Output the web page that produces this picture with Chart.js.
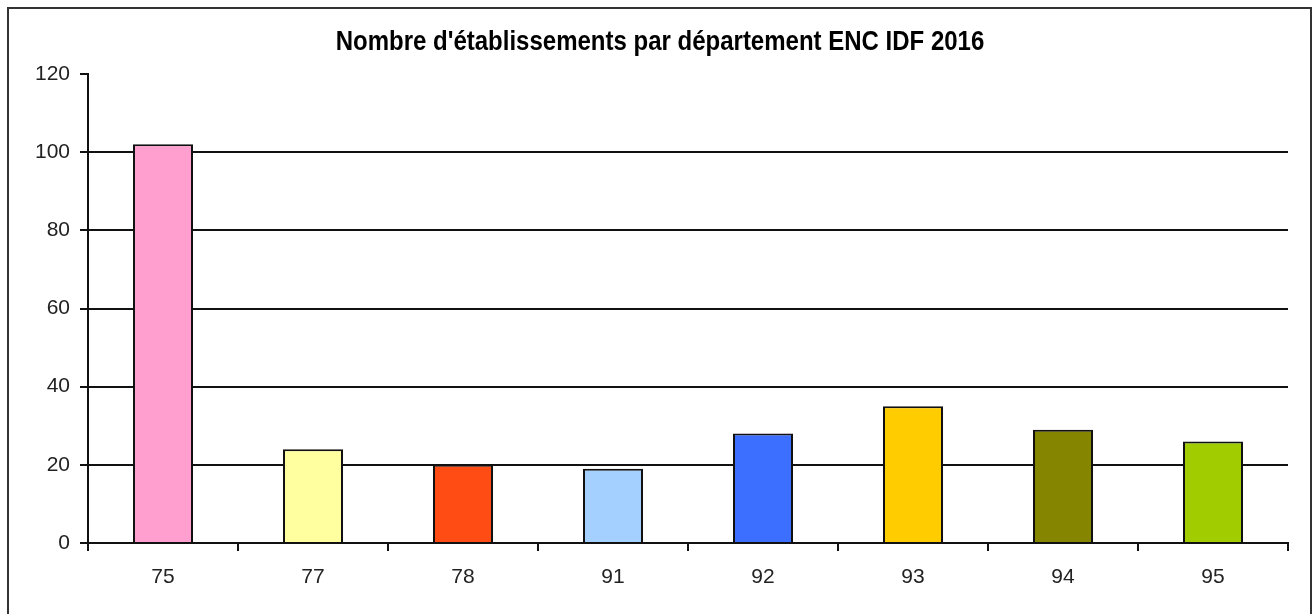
<!DOCTYPE html>
<html lang="fr">
<head>
<meta charset="utf-8">
<title>Nombre d'établissements par département ENC IDF 2016</title>
<script src="https://cdn.jsdelivr.net/npm/chart.js@4/dist/chart.umd.min.js"></script>
<style>
    html, body { margin: 0; padding: 0; background: #fff; overflow: hidden; }
    #wrap { position: relative; width: 1314px; height: 614px; }
    #cadre {
        position: absolute; left: 7px; top: 7px; width: 1301px; height: 700px;
        border: 2px solid #333;
    }
    #graphique { position: absolute; left: 0; top: 0; }
</style>
</head>
<body>
<div id="wrap">
    <div id="cadre"></div>
    <canvas id="graphique" width="1314" height="614"></canvas>
</div>
<script>
const titre = "Nombre d'établissements par département ENC IDF 2016";
const departements = ['75', '77', '78', '91', '92', '93', '94', '95'];
const etablissements = [102, 24, 20, 19, 28, 35, 29, 26];
const couleurs = ['#FF9FCF', '#FFFF9F', '#FF4B14', '#A3D0FF', '#3C6EFF', '#FFCC00', '#858500', '#A0CC00'];
const yMin = 0;
const yMax = 120;
const yPas = 20;

const policeTexte = '"Liberation Sans", Arial, sans-serif';

// titre dessiné au centre du cadre (un peu étiré en hauteur comme l'original)
const titrePlugin = {
    id: 'titreCadre',
    afterDraw(chart) {
        const ctx = chart.ctx;
        ctx.save();
        ctx.font = 'bold 24px ' + policeTexte;
        ctx.fillStyle = '#000';
        ctx.textAlign = 'center';
        ctx.textBaseline = 'middle';
        ctx.translate(660, 42);
        ctx.scale(1, 1.16);
        ctx.fillText(titre, 0, 0);
        ctx.restore();
    }
};

const ctx = document.getElementById('graphique').getContext('2d');
new Chart(ctx, {
    type: 'bar',
    data: {
        labels: departements,
        datasets: [{
            label: 'Établissements',
            data: etablissements,
            backgroundColor: couleurs,
            borderColor: '#111',
            borderWidth: 2,
            categoryPercentage: 1,
            barPercentage: 0.4
        }]
    },
    options: {
        responsive: false,
        animation: false,
        layout: { padding: { top: 74, right: 26, left: 0, bottom: 0 } },
        scales: {
            x: {
                afterFit: (scale) => { scale.height = 71; },
                grid: {
                    offset: true,
                    drawOnChartArea: false,
                    color: '#111',
                    lineWidth: 2,
                    tickLength: 8
                },
                border: { color: '#111', width: 2 },
                ticks: {
                    color: '#222',
                    padding: 14,
                    font: { family: policeTexte, size: 21 }
                }
            },
            y: {
                min: yMin,
                max: yMax,
                afterFit: (scale) => { scale.width = 88; },
                grid: {
                    color: (c) => (c.tick && c.tick.value === yMax) ? 'rgba(0,0,0,0)' : '#111',
                    tickColor: '#111',
                    lineWidth: 2,
                    tickLength: 8
                },
                border: { color: '#111', width: 2 },
                ticks: {
                    stepSize: yPas,
                    color: '#222',
                    padding: 10,
                    font: { family: policeTexte, size: 21 }
                }
            }
        },
        plugins: {
            legend: { display: false },
            title: { display: false },
            tooltip: { enabled: false }
        }
    },
    plugins: [titrePlugin]
});
</script>
</body>
</html>
